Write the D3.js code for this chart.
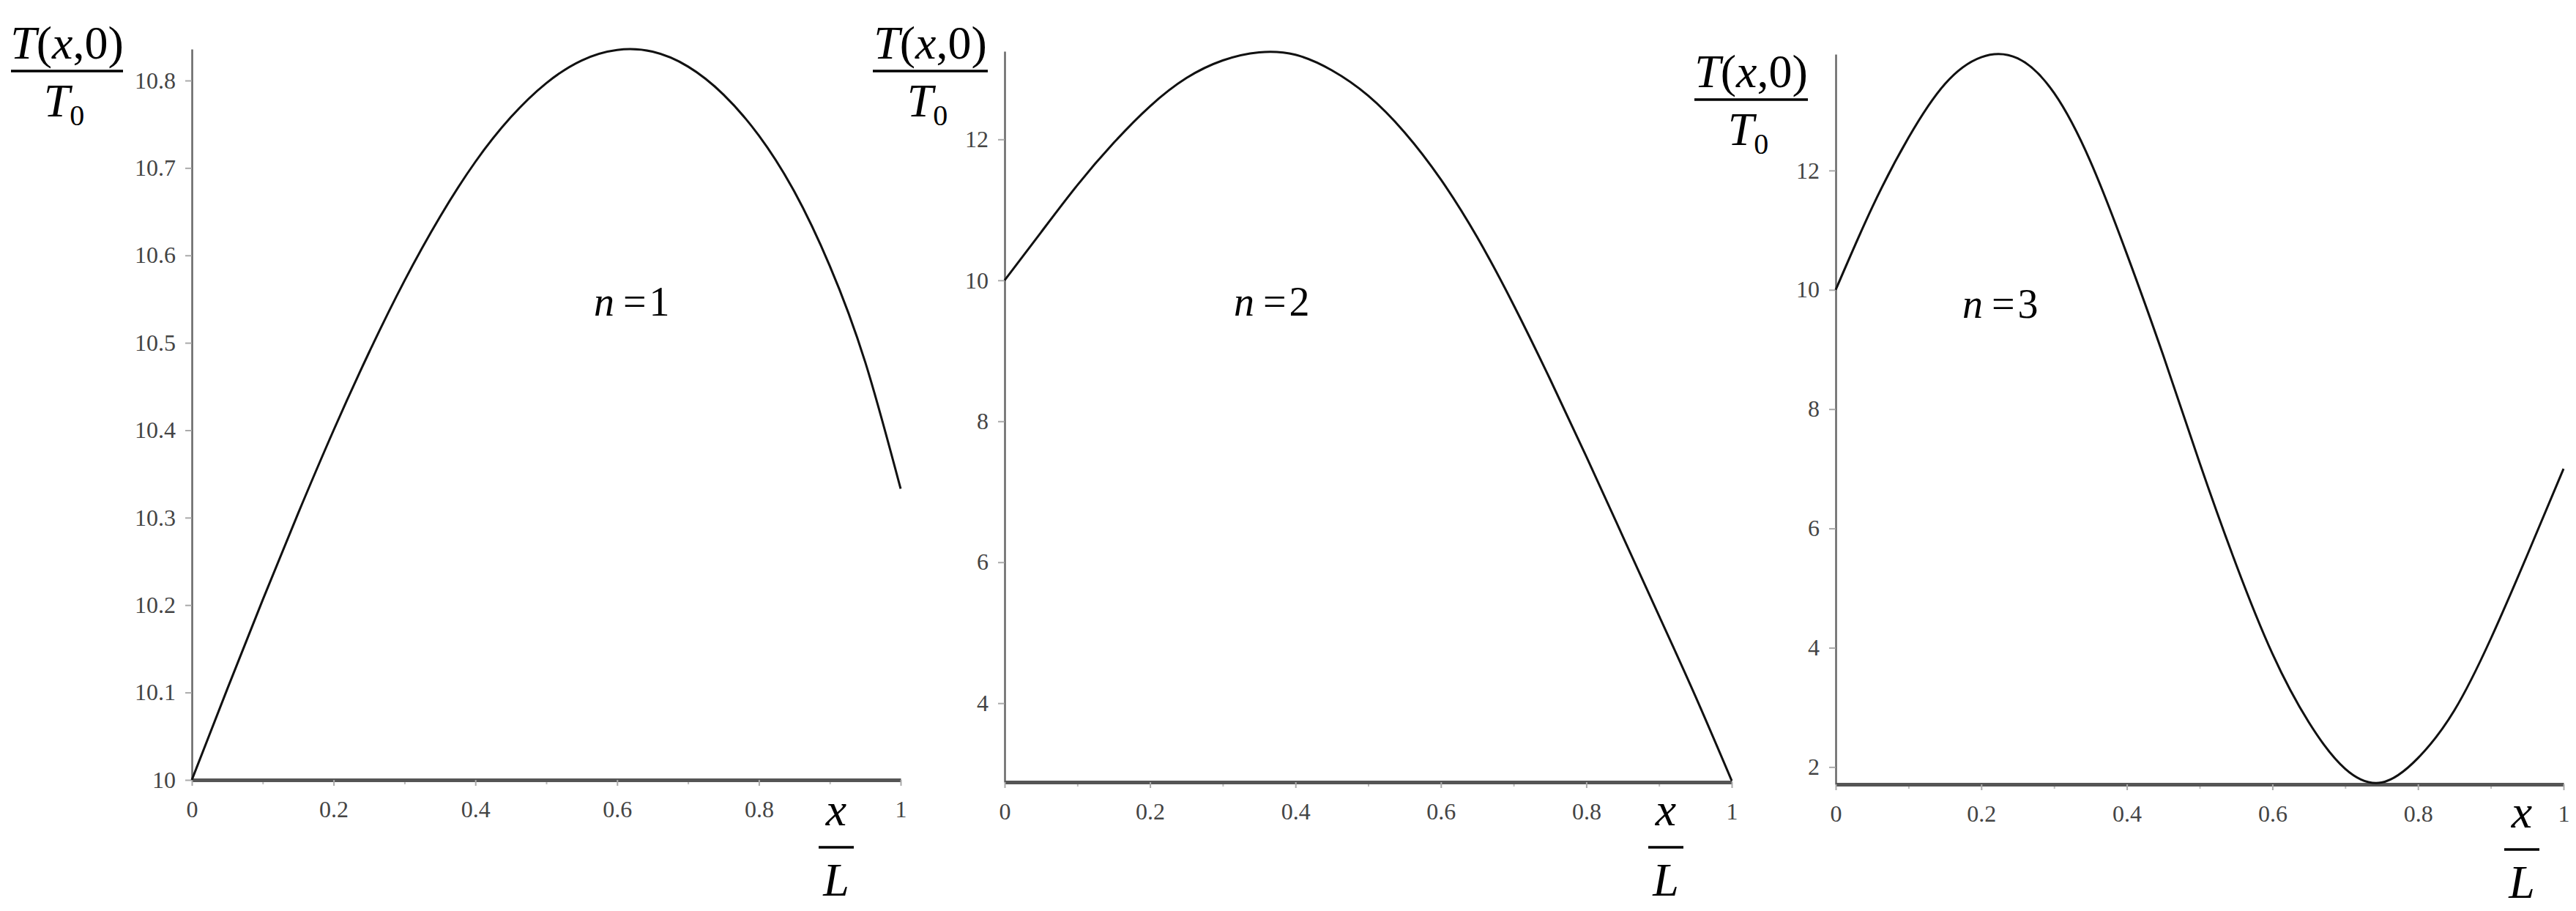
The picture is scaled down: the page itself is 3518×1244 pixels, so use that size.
<!DOCTYPE html>
<html>
<head>
<meta charset="utf-8">
<script src="https://cdn.jsdelivr.net/npm/d3@7"></script>
<style>
  html, body { margin: 0; padding: 0; background: #fff; }
  svg { display: block; }
</style>
</head>
<body>
<script>
// x/L sample positions, every 0.05
const xGrid = [0, 0.05, 0.1, 0.15, 0.2, 0.25, 0.3, 0.35, 0.4, 0.45, 0.5,
               0.55, 0.6, 0.65, 0.7, 0.75, 0.8, 0.85, 0.9, 0.95, 1];

// T(x,0)/T0 for each n
const n1Values = [10.000, 10.104, 10.206, 10.305, 10.400, 10.489, 10.571, 10.644, 10.707, 10.758, 10.797,
                  10.823, 10.835, 10.833, 10.816, 10.784, 10.737, 10.673, 10.588, 10.478, 10.333];
const n2Values = [10.00, 10.68, 11.35, 11.95, 12.47, 12.87, 13.12, 13.235, 13.20, 12.98, 12.62,
                  12.10, 11.43, 10.61, 9.65, 8.60, 7.50, 6.37, 5.24, 4.10, 2.90];
const n3Values = [10.00, 11.38, 12.55, 13.45, 13.90, 13.88, 13.30, 12.15, 10.60, 8.90, 7.10,
                  5.40, 3.90, 2.75, 1.97, 1.74, 2.15, 2.95, 4.15, 5.55, 7.00];

// axis ranges (the plot view fits the curve)
const n1Domain = [10, 10.836];
const n2Domain = [2.88, 13.25];
const n3Domain = [1.71, 13.95];

// tick values
const xTicks = [0, 0.2, 0.4, 0.6, 0.8, 1];
const xMinorTicks = [0.1, 0.3, 0.5, 0.7, 0.9];
const n1Ticks = [10, 10.1, 10.2, 10.3, 10.4, 10.5, 10.6, 10.7, 10.8];
const n2Ticks = [4, 6, 8, 10, 12];
const n3Ticks = [2, 4, 6, 8, 10, 12];

const nLabels = ["1", "2", "3"];

const width = 3518, height = 1244;
const serif = "'Liberation Serif', 'Times New Roman', Times, serif";

// pixel layout of the three panels
const panels = [
  { values: n1Values, domain: n1Domain, ticks: n1Ticks, n: nLabels[0],
    x0: 262, x1: 1230, yb: 1065, yt: 67,
    frac: { x0: 15, x1: 168, y: 97 }, nPos: { x: 811, y: 431 }, xl: { cx: 1142, y: 1127 } },
  { values: n2Values, domain: n2Domain, ticks: n2Ticks, n: nLabels[1],
    x0: 1372, x1: 2365, yb: 1068, yt: 70,
    frac: { x0: 1192, x1: 1349, y: 97 }, nPos: { x: 1685, y: 431 }, xl: { cx: 2275, y: 1127 } },
  { values: n3Values, domain: n3Domain, ticks: n3Ticks, n: nLabels[2],
    x0: 2507, x1: 3501, yb: 1071, yt: 74,
    frac: { x0: 2314, x1: 2469, y: 136 }, nPos: { x: 2680, y: 434 }, xl: { cx: 3444, y: 1130 } }
];

const svg = d3.select("body").append("svg")
    .attr("width", width)
    .attr("height", height)
    .attr("viewBox", [0, 0, width, height])
    .attr("font-family", serif);

svg.append("rect").attr("width", width).attr("height", height).attr("fill", "#fff");

panels.forEach(p => {
  const x = d3.scaleLinear().domain([0, 1]).range([p.x0, p.x1]);
  const y = d3.scaleLinear().domain(p.domain).range([p.yb, p.yt]);
  const g = svg.append("g");

  // y axis
  const yAxis = g.append("g")
      .attr("transform", `translate(${p.x0},0)`)
      .call(d3.axisLeft(y).tickValues(p.ticks).tickFormat(d3.format("~g"))
              .tickSize(9).tickSizeOuter(0).tickPadding(13))
      .attr("font-family", serif)
      .attr("font-size", 32);
  yAxis.select(".domain").attr("stroke", "#666").attr("stroke-width", 2.5);
  yAxis.selectAll(".tick line").attr("stroke", "#aaa").attr("stroke-width", 2);
  yAxis.selectAll(".tick text").attr("fill", "#444");

  // x axis, minor ticks first
  g.append("g")
      .attr("transform", `translate(0,${p.yb})`)
      .call(d3.axisBottom(x).tickValues(xMinorTicks).tickFormat("").tickSize(6).tickSizeOuter(0))
      .call(a => a.select(".domain").remove())
      .selectAll(".tick line").attr("stroke", "#bbb").attr("stroke-width", 2);

  const xAxis = g.append("g")
      .attr("transform", `translate(0,${p.yb})`)
      .call(d3.axisBottom(x).tickValues(xTicks).tickFormat(d3.format("~g"))
              .tickSize(8).tickSizeOuter(0).tickPadding(20))
      .attr("font-family", serif)
      .attr("font-size", 32);
  xAxis.select(".domain").attr("stroke", "#555").attr("stroke-width", 5);
  xAxis.selectAll(".tick line").attr("stroke", "#aaa").attr("stroke-width", 2);
  xAxis.selectAll(".tick text").attr("fill", "#444");

  // the curve
  const line = d3.line()
      .x((d, i) => x(xGrid[i]))
      .y(d => y(d))
      .curve(d3.curveNatural);

  g.append("path")
      .datum(p.values)
      .attr("fill", "none")
      .attr("stroke", "#111")
      .attr("stroke-width", 3)
      .attr("stroke-linejoin", "round")
      .attr("d", line);

  // y label: T(x,0) / T0
  const fc = (p.frac.x0 + p.frac.x1) / 2;
  const num = g.append("text")
      .attr("x", fc).attr("y", p.frac.y - 17)
      .attr("text-anchor", "middle").attr("font-size", 64);
  num.append("tspan").attr("font-style", "italic").text("T");
  num.append("tspan").text("(");
  num.append("tspan").attr("font-style", "italic").text("x");
  num.append("tspan").text(",0)");

  g.append("line")
      .attr("x1", p.frac.x0).attr("x2", p.frac.x1)
      .attr("y1", p.frac.y).attr("y2", p.frac.y)
      .attr("stroke", "#000").attr("stroke-width", 3.5);

  const den = g.append("text")
      .attr("x", fc - 4).attr("y", p.frac.y + 62)
      .attr("text-anchor", "middle").attr("font-size", 64);
  den.append("tspan").attr("font-style", "italic").text("T");
  den.append("tspan").attr("font-size", 40).attr("dy", 12).text("0");

  // n = k label
  const nl = g.append("text")
      .attr("x", p.nPos.x).attr("y", p.nPos.y).attr("font-size", 56);
  nl.append("tspan").attr("font-style", "italic").text("n");
  nl.append("tspan").attr("dx", 12).text("=");
  nl.append("tspan").attr("dx", 4).text(p.n);

  // x / L label
  g.append("text")
      .attr("x", p.xl.cx).attr("y", p.xl.y)
      .attr("text-anchor", "middle").attr("font-size", 64).attr("font-style", "italic")
      .text("x");
  g.append("line")
      .attr("x1", p.xl.cx - 24).attr("x2", p.xl.cx + 24)
      .attr("y1", p.xl.y + 30).attr("y2", p.xl.y + 30)
      .attr("stroke", "#000").attr("stroke-width", 3.5);
  g.append("text")
      .attr("x", p.xl.cx).attr("y", p.xl.y + 96)
      .attr("text-anchor", "middle").attr("font-size", 64).attr("font-style", "italic")
      .text("L");
});
</script>
</body>
</html>
